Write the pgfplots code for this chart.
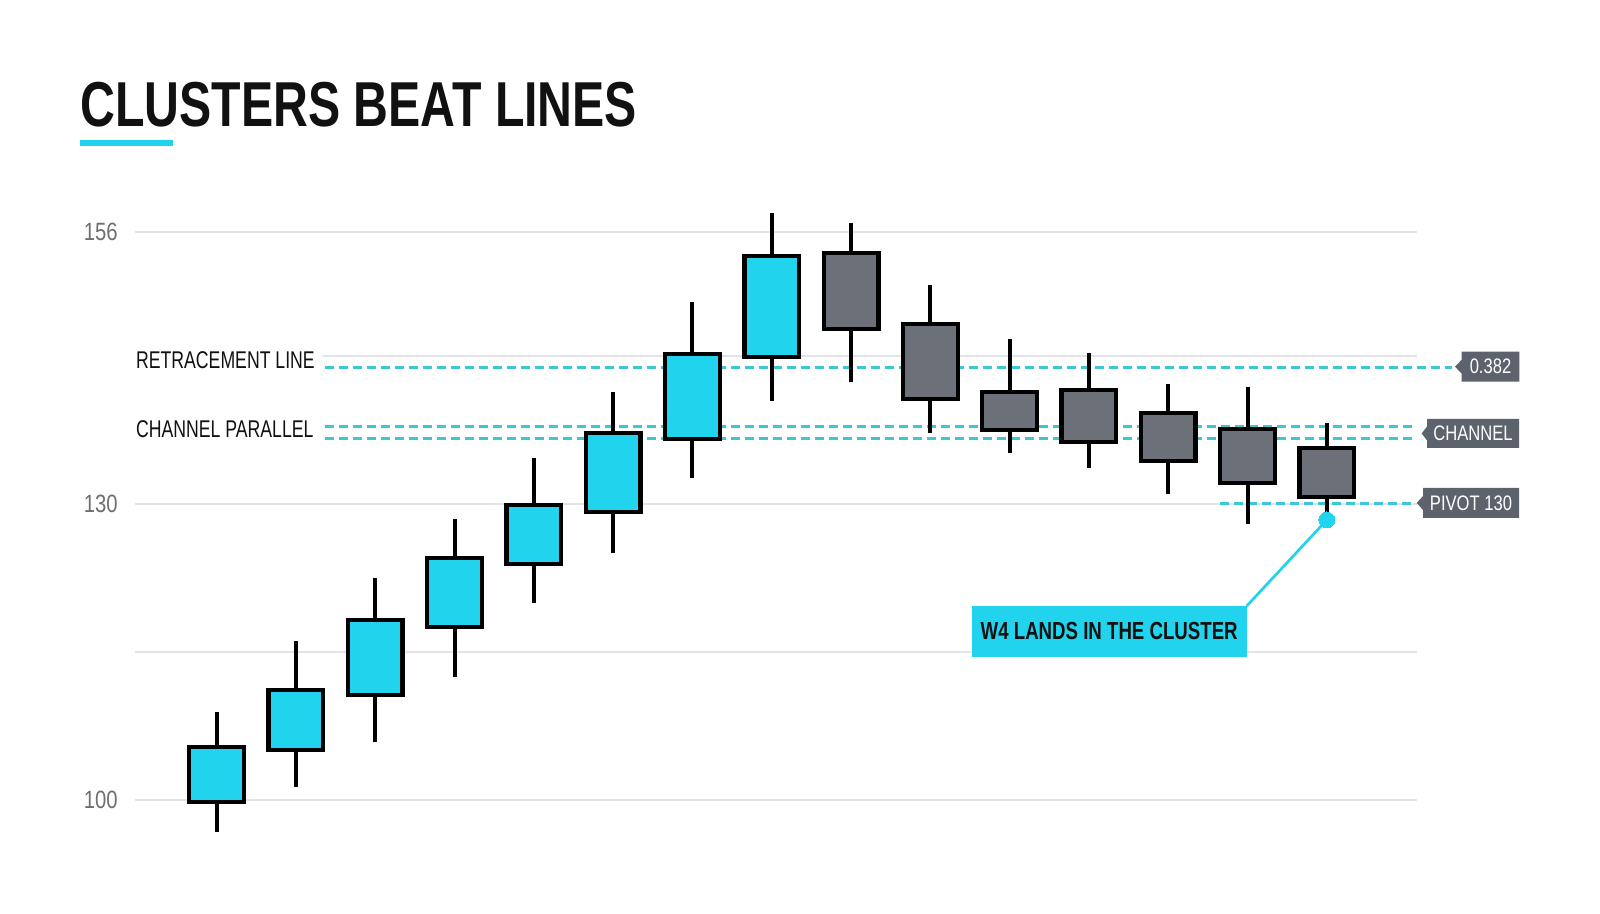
\documentclass[border=0pt]{standalone}
\usepackage{fontspec}
\usepackage{pgfplots}
\usepackage{pgfplotstable}
\pgfplotsset{compat=1.18}
\setmainfont{Liberation Sans}
\newfontfamily\titlefont[FakeStretch=0.76]{Liberation Sans Bold}
\newfontfamily\calfont[FakeStretch=0.755]{Liberation Sans Bold}
\newfontfamily\labfont[FakeStretch=0.73]{Liberation Sans}
\newfontfamily\tagfont[FakeStretch=0.79]{Liberation Sans}
\newfontfamily\tickfont[FakeStretch=0.81]{Liberation Sans}

\definecolor{bull}{HTML}{22D3EE}
\definecolor{bear}{HTML}{6B7079}
\definecolor{dashc}{HTML}{3CC6D6}
\definecolor{gridc}{HTML}{E3E3E3}
\definecolor{tagc}{HTML}{5C636D}
\definecolor{tickc}{HTML}{6E6E6E}
\definecolor{ink}{HTML}{111111}

\pgfplotstableread{
x open high low close
0 99.83 108.95 96.76 105.40
1 105.07 116.14 101.35 111.15
2 110.64 122.50 105.91 118.24
3 117.56 128.48 112.47 124.53
4 123.92 134.66 119.97 129.90
5 129.22 141.38 125.03 137.20
6 136.59 150.50 132.63 145.20
7 144.90 159.49 140.47 155.13
}\bulltab

\pgfplotstableread{
x open high low close
8 155.44 158.48 142.39 147.77
9 148.24 152.19 137.23 140.64
10 141.38 146.72 135.18 137.50
11 141.55 145.30 133.65 136.28
12 139.25 142.16 131.01 134.36
13 137.60 141.89 127.97 132.13
14 135.67 138.21 128.90 130.71
}\beartab

\pgfplotsset{
  candle/.style n args={2}{only marks, mark=*, mark size=0pt, mark options={draw=none, fill=none},
    error bars/.cd, y dir=plus, y explicit, error mark=none,
    error bar style={draw=#1, line width=#2}},
}

\begin{document}
\begin{tikzpicture}
\begin{axis}[
  at={(67.35pt,0pt)}, anchor=south west,
  scale only axis, width=641pt, height=457pt,
  xmin=-1.034, xmax=15.134, ymin=88.446, ymax=181.08,
  enlargelimits=false, clip=false,
  axis line style={draw=none},
  tick style={draw=none},
  xtick=\empty,
  ytick={100,115,130,145,157.57},
  yticklabels={100,,130,,156},
  major tick length=0pt,
  ymajorgrids, grid style={gridc, line width=1.35pt},
  yticklabel style={font=\tickfont\fontsize{12.5pt}{14pt}\selectfont, text=tickc, anchor=east, inner sep=0pt, xshift=-8.35pt},
]
% reference levels
\addplot[dashc, line width=1.5pt, dash pattern=on 4.5pt off 2.5pt] coordinates {(1.360,143.88) (15.58,143.88)};
\addplot[dashc, line width=1.5pt, dash pattern=on 4.5pt off 2.5pt] coordinates {(1.360,137.83) (15.07,137.83)};
\addplot[dashc, line width=1.5pt, dash pattern=on 4.5pt off 2.5pt] coordinates {(1.360,136.62) (15.07,136.62)};
\addplot[dashc, line width=1.5pt, dash pattern=on 4.5pt off 2.5pt] coordinates {(12.65,130) (15.11,130)};
% wicks
\addplot[candle={black}{2pt}]
  table[x=x, y=low, y error expr=\thisrow{high}-\thisrow{low}] {\bulltab};
\addplot[candle={black}{2pt}]
  table[x=x, y=low, y error expr=\thisrow{high}-\thisrow{low}] {\beartab};
% bodies: border
\addplot[candle={black}{29.5pt}]
  table[x=x, y expr=\thisrow{open}-0.218, y error expr=\thisrow{close}-\thisrow{open}+0.436] {\bulltab};
\addplot[candle={black}{29.5pt}]
  table[x=x, y expr=\thisrow{close}-0.218, y error expr=\thisrow{open}-\thisrow{close}+0.436] {\beartab};
% bodies: fill
\addplot[candle={bull}{25.2pt}]
  table[x=x, y expr=\thisrow{open}+0.218, y error expr=\thisrow{close}-\thisrow{open}-0.436] {\bulltab};
\addplot[candle={bear}{25.2pt}]
  table[x=x, y expr=\thisrow{close}+0.218, y error expr=\thisrow{open}-\thisrow{close}-0.436] {\beartab};
% callout connector and dot
\addplot[bull, line width=1.35pt] coordinates {(12.99,119.66) (14,128.38)};
\addplot[only marks, mark=*, mark size=4pt, mark options={fill=bull, draw=bull, line width=0pt}] coordinates {(14,128.38)};
\end{axis}

\begin{scope}[shift={(0pt,457pt)}, x=0.5pt, y=-0.5pt]
% title
\node[anchor=base west, inner sep=0pt, text=ink, font=\titlefont\fontsize{31.75pt}{36pt}\selectfont] at (80,127) {CLUSTERS BEAT LINES};
\fill[bull] (80,140) rectangle (173,146);
% left labels
\fill[white] (128,346) rectangle (323,374);
\node[anchor=base west, inner sep=0pt, text=ink, font=\labfont\fontsize{12.1pt}{14pt}\selectfont] at (135.7,368.6) {RETRACEMENT LINE};
\node[anchor=base west, inner sep=0pt, text=ink, font=\labfont\fontsize{12.1pt}{14pt}\selectfont] at (135.7,437.5) {CHANNEL PARALLEL};
% tags
\fill[tagc] (1455,366.7) -- (1461.7,359.7) -- (1461.7,351.7) -- (1519.3,351.7) -- (1519.3,381.7) -- (1461.7,381.7) -- (1461.7,373.7) -- cycle;
\node[text=white, inner sep=0pt, font=\tagfont\fontsize{10.5pt}{12pt}\selectfont] at (1490.5,366.7) {0.382};
\fill[tagc] (1421.7,433.5) -- (1427,426.5) -- (1427,419) -- (1519,419) -- (1519,448) -- (1427,448) -- (1427,440.5) -- cycle;
\node[text=white, inner sep=0pt, font=\tagfont\fontsize{10.5pt}{12pt}\selectfont] at (1473,433.5) {CHANNEL};
\fill[tagc] (1416.7,503) -- (1423,496) -- (1423,488) -- (1519,488) -- (1519,518) -- (1423,518) -- (1423,510) -- cycle;
\node[text=white, inner sep=0pt, font=\tagfont\fontsize{10.5pt}{12pt}\selectfont] at (1471,503) {PIVOT 130};
% callout box
\node[fill=bull, minimum width=137.5pt, minimum height=25.35pt, inner sep=0pt, text=ink, font=\calfont\fontsize{12.35pt}{14pt}\selectfont] at (1109.2,631.35) {W4 LANDS IN THE CLUSTER};
\pgfresetboundingbox
\path[use as bounding box] (0,0) rectangle (1600,914);
\end{scope}
\end{tikzpicture}
\end{document}
